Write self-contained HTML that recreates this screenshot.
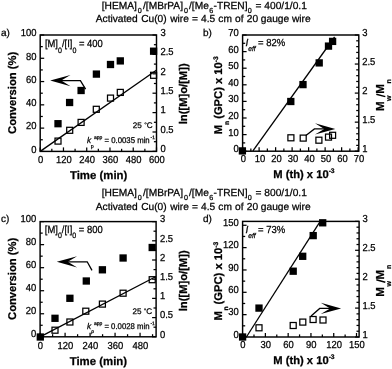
<!DOCTYPE html><html><head><meta charset="utf-8"><style>html,body{margin:0;padding:0;background:#fff}svg{display:block;filter:grayscale(1) blur(0.3px)}</style></head><body>
<svg width="392" height="369" viewBox="0 0 392 369" font-family="Liberation Sans, sans-serif" fill="#000" text-rendering="geometricPrecision"><style>text{stroke:#000;stroke-width:0.25px}</style>
<rect width="392" height="369" fill="#fff"/>
<text font-size="10.2"><tspan x="101.7" y="9.40">[HEMA]</tspan><tspan x="137.8" y="13.10" font-size="7.2">0</tspan><tspan x="143.0" y="9.40">/[MBrPA]</tspan><tspan x="184.0" y="13.10" font-size="7.2">0</tspan><tspan x="189.0" y="9.40">/[Me</tspan><tspan x="209.2" y="13.10" font-size="7.2">6</tspan><tspan x="213.6" y="9.40">-TREN]</tspan><tspan x="247.8" y="13.10" font-size="7.2">0</tspan><tspan x="255.6" y="9.40">= 400/1/0.1</tspan></text>
<text y="22.30" font-size="10.2"><tspan x="95.8">Activated</tspan><tspan x="141.2">Cu(0)</tspan><tspan x="170.2">wire</tspan><tspan x="191.9">=</tspan><tspan x="201.0">4.5</tspan><tspan x="218.3">cm</tspan><tspan x="235.1">of</tspan><tspan x="246.8">20</tspan><tspan x="260.8">gauge</tspan><tspan x="292.0">wire</tspan></text>
<text font-size="10.2"><tspan x="101.7" y="196.40">[HEMA]</tspan><tspan x="137.8" y="200.10" font-size="7.2">0</tspan><tspan x="143.0" y="196.40">/[MBrPA]</tspan><tspan x="184.0" y="200.10" font-size="7.2">0</tspan><tspan x="189.0" y="196.40">/[Me</tspan><tspan x="209.2" y="200.10" font-size="7.2">6</tspan><tspan x="213.6" y="196.40">-TREN]</tspan><tspan x="247.8" y="200.10" font-size="7.2">0</tspan><tspan x="255.6" y="196.40">= 800/1/0.1</tspan></text>
<text y="209.60" font-size="10.2"><tspan x="95.8">Activated</tspan><tspan x="141.2">Cu(0)</tspan><tspan x="170.2">wire</tspan><tspan x="191.9">=</tspan><tspan x="201.0">4.5</tspan><tspan x="218.3">cm</tspan><tspan x="235.1">of</tspan><tspan x="246.8">20</tspan><tspan x="260.8">gauge</tspan><tspan x="292.0">wire</tspan></text>
<rect x="40.2" y="35.0" width="116.30" height="116.40" fill="none" stroke="#000" stroke-width="1.45"/>
<line x1="40.20" y1="151.40" x2="40.20" y2="147.40" stroke="#000" stroke-width="1.25"/>
<text transform="translate(40.60 162.80) scale(0.935 1)" font-size="10.1" text-anchor="middle" >0</text>
<line x1="63.46" y1="151.40" x2="63.46" y2="147.40" stroke="#000" stroke-width="1.25"/>
<text transform="translate(63.86 162.80) scale(0.935 1)" font-size="10.1" text-anchor="middle" >120</text>
<line x1="86.72" y1="151.40" x2="86.72" y2="147.40" stroke="#000" stroke-width="1.25"/>
<text transform="translate(87.12 162.80) scale(0.935 1)" font-size="10.1" text-anchor="middle" >240</text>
<line x1="109.98" y1="151.40" x2="109.98" y2="147.40" stroke="#000" stroke-width="1.25"/>
<text transform="translate(110.38 162.80) scale(0.935 1)" font-size="10.1" text-anchor="middle" >360</text>
<line x1="133.24" y1="151.40" x2="133.24" y2="147.40" stroke="#000" stroke-width="1.25"/>
<text transform="translate(133.64 162.80) scale(0.935 1)" font-size="10.1" text-anchor="middle" >480</text>
<line x1="156.50" y1="151.40" x2="156.50" y2="147.40" stroke="#000" stroke-width="1.25"/>
<text transform="translate(156.90 162.80) scale(0.935 1)" font-size="10.1" text-anchor="middle" >600</text>
<line x1="51.83" y1="151.40" x2="51.83" y2="148.80" stroke="#000" stroke-width="1.25"/>
<line x1="75.09" y1="151.40" x2="75.09" y2="148.80" stroke="#000" stroke-width="1.25"/>
<line x1="98.35" y1="151.40" x2="98.35" y2="148.80" stroke="#000" stroke-width="1.25"/>
<line x1="121.61" y1="151.40" x2="121.61" y2="148.80" stroke="#000" stroke-width="1.25"/>
<line x1="144.87" y1="151.40" x2="144.87" y2="148.80" stroke="#000" stroke-width="1.25"/>
<line x1="40.20" y1="151.40" x2="44.20" y2="151.40" stroke="#000" stroke-width="1.25"/>
<text transform="translate(36.40 152.70) scale(0.935 1)" font-size="10.1" text-anchor="end" >0</text>
<line x1="40.20" y1="128.12" x2="44.20" y2="128.12" stroke="#000" stroke-width="1.25"/>
<text transform="translate(36.40 129.42) scale(0.935 1)" font-size="10.1" text-anchor="end" >20</text>
<line x1="40.20" y1="104.84" x2="44.20" y2="104.84" stroke="#000" stroke-width="1.25"/>
<text transform="translate(36.40 106.14) scale(0.935 1)" font-size="10.1" text-anchor="end" >40</text>
<line x1="40.20" y1="81.56" x2="44.20" y2="81.56" stroke="#000" stroke-width="1.25"/>
<text transform="translate(36.40 82.86) scale(0.935 1)" font-size="10.1" text-anchor="end" >60</text>
<line x1="40.20" y1="58.28" x2="44.20" y2="58.28" stroke="#000" stroke-width="1.25"/>
<text transform="translate(36.40 59.58) scale(0.935 1)" font-size="10.1" text-anchor="end" >80</text>
<line x1="40.20" y1="35.00" x2="44.20" y2="35.00" stroke="#000" stroke-width="1.25"/>
<text transform="translate(36.40 36.30) scale(0.935 1)" font-size="10.1" text-anchor="end" >100</text>
<line x1="40.20" y1="139.76" x2="42.80" y2="139.76" stroke="#000" stroke-width="1.25"/>
<line x1="40.20" y1="116.48" x2="42.80" y2="116.48" stroke="#000" stroke-width="1.25"/>
<line x1="40.20" y1="93.20" x2="42.80" y2="93.20" stroke="#000" stroke-width="1.25"/>
<line x1="40.20" y1="69.92" x2="42.80" y2="69.92" stroke="#000" stroke-width="1.25"/>
<line x1="40.20" y1="46.64" x2="42.80" y2="46.64" stroke="#000" stroke-width="1.25"/>
<line x1="156.50" y1="151.40" x2="152.50" y2="151.40" stroke="#000" stroke-width="1.25"/>
<text transform="translate(160.40 152.20) scale(0.935 1)" font-size="10.1" text-anchor="start" >0</text>
<line x1="156.50" y1="132.00" x2="152.50" y2="132.00" stroke="#000" stroke-width="1.25"/>
<text transform="translate(160.40 132.80) scale(0.935 1)" font-size="10.1" text-anchor="start" >0.5</text>
<line x1="156.50" y1="112.60" x2="152.50" y2="112.60" stroke="#000" stroke-width="1.25"/>
<text transform="translate(160.40 113.40) scale(0.935 1)" font-size="10.1" text-anchor="start" >1</text>
<line x1="156.50" y1="93.20" x2="152.50" y2="93.20" stroke="#000" stroke-width="1.25"/>
<text transform="translate(160.40 94.00) scale(0.935 1)" font-size="10.1" text-anchor="start" >1.5</text>
<line x1="156.50" y1="73.80" x2="152.50" y2="73.80" stroke="#000" stroke-width="1.25"/>
<text transform="translate(160.40 74.60) scale(0.935 1)" font-size="10.1" text-anchor="start" >2</text>
<line x1="156.50" y1="54.40" x2="152.50" y2="54.40" stroke="#000" stroke-width="1.25"/>
<text transform="translate(160.40 55.20) scale(0.935 1)" font-size="10.1" text-anchor="start" >2.5</text>
<line x1="156.50" y1="35.00" x2="152.50" y2="35.00" stroke="#000" stroke-width="1.25"/>
<text transform="translate(160.40 35.80) scale(0.935 1)" font-size="10.1" text-anchor="start" >3</text>
<line x1="156.50" y1="141.70" x2="153.90" y2="141.70" stroke="#000" stroke-width="1.25"/>
<line x1="156.50" y1="122.30" x2="153.90" y2="122.30" stroke="#000" stroke-width="1.25"/>
<line x1="156.50" y1="102.90" x2="153.90" y2="102.90" stroke="#000" stroke-width="1.25"/>
<line x1="156.50" y1="83.50" x2="153.90" y2="83.50" stroke="#000" stroke-width="1.25"/>
<line x1="156.50" y1="64.10" x2="153.90" y2="64.10" stroke="#000" stroke-width="1.25"/>
<line x1="156.50" y1="44.70" x2="153.90" y2="44.70" stroke="#000" stroke-width="1.25"/>
<text x="98.65" y="178.80" font-size="11.4" text-anchor="middle" font-weight="bold" >Time (min)</text>
<text x="15.60" y="92.90" font-size="11.2" text-anchor="middle" font-weight="bold" transform="rotate(-90 15.60 92.90)" >Conversion (%)</text>
<text x="187.20" y="93.80" font-size="11.2" text-anchor="middle" font-weight="bold" transform="rotate(-90 187.20 93.80)" >ln([M]o/[M])</text>
<text x="0.90" y="36.30" font-size="10" text-anchor="start" >a)</text>
<rect x="55.00" y="138.10" width="6.0" height="6.0" fill="none" stroke="#000" stroke-width="1.25"/>
<rect x="66.70" y="127.30" width="6.0" height="6.0" fill="none" stroke="#000" stroke-width="1.25"/>
<rect x="78.10" y="119.40" width="6.0" height="6.0" fill="none" stroke="#000" stroke-width="1.25"/>
<rect x="93.30" y="106.30" width="6.0" height="6.0" fill="none" stroke="#000" stroke-width="1.25"/>
<rect x="107.50" y="95.10" width="6.0" height="6.0" fill="none" stroke="#000" stroke-width="1.25"/>
<rect x="117.30" y="89.40" width="6.0" height="6.0" fill="none" stroke="#000" stroke-width="1.25"/>
<rect x="150.60" y="72.30" width="6.0" height="6.0" fill="none" stroke="#000" stroke-width="1.25"/>
<line x1="40.20" y1="151.40" x2="156.30" y2="70.20" stroke="#000" stroke-width="1.3"/>
<rect x="54.35" y="120.05" width="7.3" height="7.3" fill="#000"/>
<rect x="65.95" y="98.85" width="7.3" height="7.3" fill="#000"/>
<rect x="77.45" y="86.85" width="7.3" height="7.3" fill="#000"/>
<rect x="92.75" y="70.45" width="7.3" height="7.3" fill="#000"/>
<rect x="106.85" y="60.85" width="7.3" height="7.3" fill="#000"/>
<rect x="116.65" y="57.25" width="7.3" height="7.3" fill="#000"/>
<rect x="149.95" y="47.55" width="7.3" height="7.3" fill="#000"/>
<path d="M50.20,80.60 L70.50,75.00 L61.20,80.60 L70.50,86.20 Z" fill="#000"/>
<path d="M59.20,80.60 L80.40,80.60 L85.60,89.20" fill="none" stroke="#000" stroke-width="1.3"/>
<text x="44.90" y="46.90" font-size="10.4" text-anchor="start" textLength="57.9" lengthAdjust="spacingAndGlyphs">[M]<tspan font-size="7.8" dy="5.6">0</tspan><tspan dy="-5.6">/[I]</tspan><tspan font-size="7.8" dy="5.6">0</tspan><tspan dy="-5.6"> = 400</tspan></text>
<text x="152.60" y="127.80" font-size="8.1" text-anchor="end" >25 <tspan font-size="6.5" dy="-0.6">°</tspan><tspan dy="0.6">C</tspan></text>
<text x="87.00" y="143.10" font-size="8.3" text-anchor="start" font-style="italic">k</text>
<text x="90.80" y="148.30" font-size="5.3" text-anchor="start" >p</text>
<text x="94.00" y="139.10" font-size="5.0" text-anchor="start" >app</text>
<text x="104.50" y="143.10" font-size="8.3" text-anchor="start" textLength="45.2" lengthAdjust="spacingAndGlyphs">= 0.0035 min</text>
<text x="150.50" y="138.90" font-size="4.9" text-anchor="start" >-1</text>
<rect x="242.6" y="35.0" width="116.20" height="116.20" fill="none" stroke="#000" stroke-width="1.45"/>
<line x1="242.60" y1="151.20" x2="242.60" y2="147.20" stroke="#000" stroke-width="1.25"/>
<text transform="translate(243.40 162.20) scale(0.935 1)" font-size="10.1" text-anchor="middle" >0</text>
<line x1="259.11" y1="151.20" x2="259.11" y2="147.20" stroke="#000" stroke-width="1.25"/>
<text transform="translate(259.91 162.20) scale(0.935 1)" font-size="10.1" text-anchor="middle" >10</text>
<line x1="275.61" y1="151.20" x2="275.61" y2="147.20" stroke="#000" stroke-width="1.25"/>
<text transform="translate(276.41 162.20) scale(0.935 1)" font-size="10.1" text-anchor="middle" >20</text>
<line x1="292.12" y1="151.20" x2="292.12" y2="147.20" stroke="#000" stroke-width="1.25"/>
<text transform="translate(292.92 162.20) scale(0.935 1)" font-size="10.1" text-anchor="middle" >30</text>
<line x1="308.62" y1="151.20" x2="308.62" y2="147.20" stroke="#000" stroke-width="1.25"/>
<text transform="translate(309.42 162.20) scale(0.935 1)" font-size="10.1" text-anchor="middle" >40</text>
<line x1="325.13" y1="151.20" x2="325.13" y2="147.20" stroke="#000" stroke-width="1.25"/>
<text transform="translate(325.93 162.20) scale(0.935 1)" font-size="10.1" text-anchor="middle" >50</text>
<line x1="341.63" y1="151.20" x2="341.63" y2="147.20" stroke="#000" stroke-width="1.25"/>
<text transform="translate(342.43 162.20) scale(0.935 1)" font-size="10.1" text-anchor="middle" >60</text>
<line x1="358.14" y1="151.20" x2="358.14" y2="147.20" stroke="#000" stroke-width="1.25"/>
<text transform="translate(358.94 162.20) scale(0.935 1)" font-size="10.1" text-anchor="middle" >70</text>
<line x1="250.85" y1="151.20" x2="250.85" y2="148.60" stroke="#000" stroke-width="1.25"/>
<line x1="267.36" y1="151.20" x2="267.36" y2="148.60" stroke="#000" stroke-width="1.25"/>
<line x1="283.86" y1="151.20" x2="283.86" y2="148.60" stroke="#000" stroke-width="1.25"/>
<line x1="300.37" y1="151.20" x2="300.37" y2="148.60" stroke="#000" stroke-width="1.25"/>
<line x1="316.88" y1="151.20" x2="316.88" y2="148.60" stroke="#000" stroke-width="1.25"/>
<line x1="333.38" y1="151.20" x2="333.38" y2="148.60" stroke="#000" stroke-width="1.25"/>
<line x1="349.89" y1="151.20" x2="349.89" y2="148.60" stroke="#000" stroke-width="1.25"/>
<line x1="242.60" y1="151.20" x2="246.60" y2="151.20" stroke="#000" stroke-width="1.25"/>
<text transform="translate(238.80 152.20) scale(0.935 1)" font-size="10.1" text-anchor="end" >0</text>
<line x1="242.60" y1="134.60" x2="246.60" y2="134.60" stroke="#000" stroke-width="1.25"/>
<text transform="translate(238.80 135.60) scale(0.935 1)" font-size="10.1" text-anchor="end" >10</text>
<line x1="242.60" y1="118.00" x2="246.60" y2="118.00" stroke="#000" stroke-width="1.25"/>
<text transform="translate(238.80 119.00) scale(0.935 1)" font-size="10.1" text-anchor="end" >20</text>
<line x1="242.60" y1="101.40" x2="246.60" y2="101.40" stroke="#000" stroke-width="1.25"/>
<text transform="translate(238.80 102.40) scale(0.935 1)" font-size="10.1" text-anchor="end" >30</text>
<line x1="242.60" y1="84.80" x2="246.60" y2="84.80" stroke="#000" stroke-width="1.25"/>
<text transform="translate(238.80 85.80) scale(0.935 1)" font-size="10.1" text-anchor="end" >40</text>
<line x1="242.60" y1="68.20" x2="246.60" y2="68.20" stroke="#000" stroke-width="1.25"/>
<text transform="translate(238.80 69.20) scale(0.935 1)" font-size="10.1" text-anchor="end" >50</text>
<line x1="242.60" y1="51.60" x2="246.60" y2="51.60" stroke="#000" stroke-width="1.25"/>
<text transform="translate(238.80 52.60) scale(0.935 1)" font-size="10.1" text-anchor="end" >60</text>
<line x1="242.60" y1="35.00" x2="246.60" y2="35.00" stroke="#000" stroke-width="1.25"/>
<text transform="translate(238.80 36.00) scale(0.935 1)" font-size="10.1" text-anchor="end" >70</text>
<line x1="242.60" y1="142.90" x2="245.20" y2="142.90" stroke="#000" stroke-width="1.25"/>
<line x1="242.60" y1="126.30" x2="245.20" y2="126.30" stroke="#000" stroke-width="1.25"/>
<line x1="242.60" y1="109.70" x2="245.20" y2="109.70" stroke="#000" stroke-width="1.25"/>
<line x1="242.60" y1="93.10" x2="245.20" y2="93.10" stroke="#000" stroke-width="1.25"/>
<line x1="242.60" y1="76.50" x2="245.20" y2="76.50" stroke="#000" stroke-width="1.25"/>
<line x1="242.60" y1="59.90" x2="245.20" y2="59.90" stroke="#000" stroke-width="1.25"/>
<line x1="242.60" y1="43.30" x2="245.20" y2="43.30" stroke="#000" stroke-width="1.25"/>
<line x1="358.80" y1="151.20" x2="354.80" y2="151.20" stroke="#000" stroke-width="1.25"/>
<text transform="translate(362.20 152.00) scale(0.935 1)" font-size="10.1" text-anchor="start" >1</text>
<line x1="358.80" y1="122.15" x2="354.80" y2="122.15" stroke="#000" stroke-width="1.25"/>
<text transform="translate(362.20 122.95) scale(0.935 1)" font-size="10.1" text-anchor="start" >1.5</text>
<line x1="358.80" y1="93.10" x2="354.80" y2="93.10" stroke="#000" stroke-width="1.25"/>
<text transform="translate(362.20 93.90) scale(0.935 1)" font-size="10.1" text-anchor="start" >2</text>
<line x1="358.80" y1="64.05" x2="354.80" y2="64.05" stroke="#000" stroke-width="1.25"/>
<text transform="translate(362.20 64.85) scale(0.935 1)" font-size="10.1" text-anchor="start" >2.5</text>
<line x1="358.80" y1="35.00" x2="354.80" y2="35.00" stroke="#000" stroke-width="1.25"/>
<text transform="translate(362.20 35.80) scale(0.935 1)" font-size="10.1" text-anchor="start" >3</text>
<line x1="358.80" y1="145.39" x2="356.20" y2="145.39" stroke="#000" stroke-width="1.25"/>
<line x1="358.80" y1="139.58" x2="356.20" y2="139.58" stroke="#000" stroke-width="1.25"/>
<line x1="358.80" y1="133.77" x2="356.20" y2="133.77" stroke="#000" stroke-width="1.25"/>
<line x1="358.80" y1="127.96" x2="356.20" y2="127.96" stroke="#000" stroke-width="1.25"/>
<line x1="358.80" y1="116.34" x2="356.20" y2="116.34" stroke="#000" stroke-width="1.25"/>
<line x1="358.80" y1="110.53" x2="356.20" y2="110.53" stroke="#000" stroke-width="1.25"/>
<line x1="358.80" y1="104.72" x2="356.20" y2="104.72" stroke="#000" stroke-width="1.25"/>
<line x1="358.80" y1="98.91" x2="356.20" y2="98.91" stroke="#000" stroke-width="1.25"/>
<line x1="358.80" y1="87.29" x2="356.20" y2="87.29" stroke="#000" stroke-width="1.25"/>
<line x1="358.80" y1="81.48" x2="356.20" y2="81.48" stroke="#000" stroke-width="1.25"/>
<line x1="358.80" y1="75.67" x2="356.20" y2="75.67" stroke="#000" stroke-width="1.25"/>
<line x1="358.80" y1="69.86" x2="356.20" y2="69.86" stroke="#000" stroke-width="1.25"/>
<line x1="358.80" y1="58.24" x2="356.20" y2="58.24" stroke="#000" stroke-width="1.25"/>
<line x1="358.80" y1="52.43" x2="356.20" y2="52.43" stroke="#000" stroke-width="1.25"/>
<line x1="358.80" y1="46.62" x2="356.20" y2="46.62" stroke="#000" stroke-width="1.25"/>
<line x1="358.80" y1="40.81" x2="356.20" y2="40.81" stroke="#000" stroke-width="1.25"/>
<text x="273.30" y="178.30" font-size="11.2" text-anchor="start" font-weight="bold" >M (th) x 10<tspan font-size="6.7" dy="-5.4">-3</tspan></text>
<text x="222.30" y="134.30" font-size="11.2" text-anchor="start" font-weight="bold" transform="rotate(-90 222.30 134.30)" >M</text>
<text x="229.00" y="124.97" font-size="6.7" text-anchor="start" font-weight="bold" transform="rotate(-90 229.00 124.97)" >n</text>
<text x="222.30" y="118.80" font-size="11.2" text-anchor="start" font-weight="bold" transform="rotate(-90 222.30 118.80)" >(GPC) x 10<tspan font-size="6.7" dy="-4.6">-3</tspan></text>
<text x="384.50" y="111.10" font-size="11.6" text-anchor="start" font-weight="bold" transform="rotate(-90 384.50 111.10)" >M</text>
<text x="390.60" y="101.00" font-size="7.0" text-anchor="start" font-weight="bold" transform="rotate(-90 390.60 101.00)" >w</text>
<line x1="385.30" y1="96.60" x2="376.30" y2="94.20" stroke="#000" stroke-width="1.5"/>
<text x="384.50" y="93.80" font-size="11.6" text-anchor="start" font-weight="bold" transform="rotate(-90 384.50 93.80)" >M</text>
<text x="390.60" y="83.50" font-size="7.0" text-anchor="start" font-weight="bold" transform="rotate(-90 390.60 83.50)" >n</text>
<text x="203.00" y="36.30" font-size="10" text-anchor="start" >b)</text>
<line x1="252.90" y1="150.90" x2="334.60" y2="37.00" stroke="#000" stroke-width="1.3"/>
<rect x="287.90" y="134.80" width="6.0" height="6.0" fill="none" stroke="#000" stroke-width="1.25"/>
<rect x="300.20" y="135.10" width="6.0" height="6.0" fill="none" stroke="#000" stroke-width="1.25"/>
<rect x="315.90" y="137.20" width="6.0" height="6.0" fill="none" stroke="#000" stroke-width="1.25"/>
<rect x="325.50" y="134.10" width="6.0" height="6.0" fill="none" stroke="#000" stroke-width="1.25"/>
<rect x="329.60" y="132.30" width="6.0" height="6.0" fill="none" stroke="#000" stroke-width="1.25"/>
<rect x="238.75" y="147.25" width="7.3" height="7.3" fill="#000"/>
<rect x="287.15" y="97.85" width="7.3" height="7.3" fill="#000"/>
<rect x="299.35" y="80.95" width="7.3" height="7.3" fill="#000"/>
<rect x="315.55" y="59.25" width="7.3" height="7.3" fill="#000"/>
<rect x="324.85" y="42.45" width="7.3" height="7.3" fill="#000"/>
<rect x="328.95" y="37.75" width="7.3" height="7.3" fill="#000"/>
<path d="M335.30,128.90 L315.00,123.30 L324.30,128.90 L315.00,134.50 Z" fill="#000"/>
<path d="M326.30,128.90 L314.40,128.90 L305.90,135.40" fill="none" stroke="#000" stroke-width="1.3"/>
<text x="245.50" y="45.90" font-size="10.2" text-anchor="start" font-style="italic">I</text>
<text x="248.20" y="50.90" font-size="7.0" text-anchor="start" font-style="italic" textLength="7.4" lengthAdjust="spacingAndGlyphs">eff</text>
<text x="258.00" y="45.90" font-size="10.2" text-anchor="start" textLength="27.3" lengthAdjust="spacingAndGlyphs">= 82%</text>
<rect x="40.1" y="221.6" width="116.00" height="115.20" fill="none" stroke="#000" stroke-width="1.45"/>
<line x1="40.10" y1="336.80" x2="40.10" y2="332.80" stroke="#000" stroke-width="1.25"/>
<text transform="translate(40.50 348.80) scale(0.935 1)" font-size="10.1" text-anchor="middle" >0</text>
<line x1="65.09" y1="336.80" x2="65.09" y2="332.80" stroke="#000" stroke-width="1.25"/>
<text transform="translate(65.49 348.80) scale(0.935 1)" font-size="10.1" text-anchor="middle" >120</text>
<line x1="90.08" y1="336.80" x2="90.08" y2="332.80" stroke="#000" stroke-width="1.25"/>
<text transform="translate(90.48 348.80) scale(0.935 1)" font-size="10.1" text-anchor="middle" >240</text>
<line x1="115.07" y1="336.80" x2="115.07" y2="332.80" stroke="#000" stroke-width="1.25"/>
<text transform="translate(115.47 348.80) scale(0.935 1)" font-size="10.1" text-anchor="middle" >360</text>
<line x1="140.06" y1="336.80" x2="140.06" y2="332.80" stroke="#000" stroke-width="1.25"/>
<text transform="translate(140.46 348.80) scale(0.935 1)" font-size="10.1" text-anchor="middle" >480</text>
<line x1="52.60" y1="336.80" x2="52.60" y2="334.20" stroke="#000" stroke-width="1.25"/>
<line x1="77.59" y1="336.80" x2="77.59" y2="334.20" stroke="#000" stroke-width="1.25"/>
<line x1="102.58" y1="336.80" x2="102.58" y2="334.20" stroke="#000" stroke-width="1.25"/>
<line x1="127.57" y1="336.80" x2="127.57" y2="334.20" stroke="#000" stroke-width="1.25"/>
<line x1="152.56" y1="336.80" x2="152.56" y2="334.20" stroke="#000" stroke-width="1.25"/>
<line x1="40.10" y1="336.80" x2="44.10" y2="336.80" stroke="#000" stroke-width="1.25"/>
<text transform="translate(36.30 337.30) scale(0.935 1)" font-size="10.1" text-anchor="end" >0</text>
<line x1="40.10" y1="313.76" x2="44.10" y2="313.76" stroke="#000" stroke-width="1.25"/>
<text transform="translate(36.30 314.26) scale(0.935 1)" font-size="10.1" text-anchor="end" >20</text>
<line x1="40.10" y1="290.72" x2="44.10" y2="290.72" stroke="#000" stroke-width="1.25"/>
<text transform="translate(36.30 291.22) scale(0.935 1)" font-size="10.1" text-anchor="end" >40</text>
<line x1="40.10" y1="267.68" x2="44.10" y2="267.68" stroke="#000" stroke-width="1.25"/>
<text transform="translate(36.30 268.18) scale(0.935 1)" font-size="10.1" text-anchor="end" >60</text>
<line x1="40.10" y1="244.64" x2="44.10" y2="244.64" stroke="#000" stroke-width="1.25"/>
<text transform="translate(36.30 245.14) scale(0.935 1)" font-size="10.1" text-anchor="end" >80</text>
<line x1="40.10" y1="221.60" x2="44.10" y2="221.60" stroke="#000" stroke-width="1.25"/>
<text transform="translate(36.30 222.10) scale(0.935 1)" font-size="10.1" text-anchor="end" >100</text>
<line x1="40.10" y1="325.28" x2="42.70" y2="325.28" stroke="#000" stroke-width="1.25"/>
<line x1="40.10" y1="302.24" x2="42.70" y2="302.24" stroke="#000" stroke-width="1.25"/>
<line x1="40.10" y1="279.20" x2="42.70" y2="279.20" stroke="#000" stroke-width="1.25"/>
<line x1="40.10" y1="256.16" x2="42.70" y2="256.16" stroke="#000" stroke-width="1.25"/>
<line x1="40.10" y1="233.12" x2="42.70" y2="233.12" stroke="#000" stroke-width="1.25"/>
<line x1="156.10" y1="336.80" x2="152.10" y2="336.80" stroke="#000" stroke-width="1.25"/>
<text transform="translate(160.00 337.60) scale(0.935 1)" font-size="10.1" text-anchor="start" >0</text>
<line x1="156.10" y1="317.60" x2="152.10" y2="317.60" stroke="#000" stroke-width="1.25"/>
<text transform="translate(160.00 318.40) scale(0.935 1)" font-size="10.1" text-anchor="start" >0.5</text>
<line x1="156.10" y1="298.40" x2="152.10" y2="298.40" stroke="#000" stroke-width="1.25"/>
<text transform="translate(160.00 299.20) scale(0.935 1)" font-size="10.1" text-anchor="start" >1</text>
<line x1="156.10" y1="279.20" x2="152.10" y2="279.20" stroke="#000" stroke-width="1.25"/>
<text transform="translate(160.00 280.00) scale(0.935 1)" font-size="10.1" text-anchor="start" >1.5</text>
<line x1="156.10" y1="260.00" x2="152.10" y2="260.00" stroke="#000" stroke-width="1.25"/>
<text transform="translate(160.00 260.80) scale(0.935 1)" font-size="10.1" text-anchor="start" >2</text>
<line x1="156.10" y1="240.80" x2="152.10" y2="240.80" stroke="#000" stroke-width="1.25"/>
<text transform="translate(160.00 241.60) scale(0.935 1)" font-size="10.1" text-anchor="start" >2.5</text>
<line x1="156.10" y1="221.60" x2="152.10" y2="221.60" stroke="#000" stroke-width="1.25"/>
<text transform="translate(160.00 222.40) scale(0.935 1)" font-size="10.1" text-anchor="start" >3</text>
<line x1="156.10" y1="327.20" x2="153.50" y2="327.20" stroke="#000" stroke-width="1.25"/>
<line x1="156.10" y1="308.00" x2="153.50" y2="308.00" stroke="#000" stroke-width="1.25"/>
<line x1="156.10" y1="288.80" x2="153.50" y2="288.80" stroke="#000" stroke-width="1.25"/>
<line x1="156.10" y1="269.60" x2="153.50" y2="269.60" stroke="#000" stroke-width="1.25"/>
<line x1="156.10" y1="250.40" x2="153.50" y2="250.40" stroke="#000" stroke-width="1.25"/>
<line x1="156.10" y1="231.20" x2="153.50" y2="231.20" stroke="#000" stroke-width="1.25"/>
<text x="98.40" y="364.80" font-size="11.4" text-anchor="middle" font-weight="bold" >Time (min)</text>
<text x="15.60" y="278.90" font-size="11.2" text-anchor="middle" font-weight="bold" transform="rotate(-90 15.60 278.90)" >Conversion (%)</text>
<text x="187.20" y="280.80" font-size="11.2" text-anchor="middle" font-weight="bold" transform="rotate(-90 187.20 280.80)" >ln([M]o/[M])</text>
<text x="0.90" y="221.90" font-size="10" text-anchor="start" >c)</text>
<rect x="52.00" y="327.20" width="6.0" height="6.0" fill="none" stroke="#000" stroke-width="1.25"/>
<rect x="66.90" y="319.00" width="6.0" height="6.0" fill="none" stroke="#000" stroke-width="1.25"/>
<rect x="82.80" y="308.20" width="6.0" height="6.0" fill="none" stroke="#000" stroke-width="1.25"/>
<rect x="99.40" y="301.10" width="6.0" height="6.0" fill="none" stroke="#000" stroke-width="1.25"/>
<rect x="120.10" y="290.20" width="6.0" height="6.0" fill="none" stroke="#000" stroke-width="1.25"/>
<rect x="149.20" y="276.70" width="6.0" height="6.0" fill="none" stroke="#000" stroke-width="1.25"/>
<line x1="40.10" y1="336.80" x2="156.10" y2="276.50" stroke="#000" stroke-width="1.3"/>
<rect x="36.65" y="333.35" width="7.3" height="7.3" fill="#000"/>
<rect x="51.35" y="314.65" width="7.3" height="7.3" fill="#000"/>
<rect x="66.25" y="294.65" width="7.3" height="7.3" fill="#000"/>
<rect x="82.65" y="277.35" width="7.3" height="7.3" fill="#000"/>
<rect x="98.75" y="266.15" width="7.3" height="7.3" fill="#000"/>
<rect x="119.45" y="254.35" width="7.3" height="7.3" fill="#000"/>
<rect x="148.55" y="243.85" width="7.3" height="7.3" fill="#000"/>
<path d="M56.80,261.80 L77.10,256.20 L67.80,261.80 L77.10,267.40 Z" fill="#000"/>
<path d="M65.80,261.80 L87.20,261.80 L92.00,270.40" fill="none" stroke="#000" stroke-width="1.3"/>
<text x="44.80" y="232.60" font-size="10.4" text-anchor="start" textLength="57.9" lengthAdjust="spacingAndGlyphs">[M]<tspan font-size="7.8" dy="5.6">0</tspan><tspan dy="-5.6">/[I]</tspan><tspan font-size="7.8" dy="5.6">0</tspan><tspan dy="-5.6"> = 800</tspan></text>
<text x="152.20" y="314.00" font-size="8.1" text-anchor="end" >25 <tspan font-size="6.5" dy="-0.6">°</tspan><tspan dy="0.6">C</tspan></text>
<text x="86.90" y="329.30" font-size="8.3" text-anchor="start" font-style="italic">k</text>
<text x="91.20" y="333.20" font-size="4.8" text-anchor="start" font-style="italic">p</text>
<text x="93.90" y="324.70" font-size="5.0" text-anchor="start" >app</text>
<text x="104.40" y="329.30" font-size="8.3" text-anchor="start" textLength="45.2" lengthAdjust="spacingAndGlyphs">= 0.0028 min</text>
<text x="150.40" y="325.10" font-size="4.9" text-anchor="start" >-1</text>
<rect x="242.6" y="221.4" width="116.50" height="115.60" fill="none" stroke="#000" stroke-width="1.45"/>
<line x1="242.60" y1="337.00" x2="242.60" y2="333.00" stroke="#000" stroke-width="1.25"/>
<text transform="translate(243.00 348.30) scale(0.935 1)" font-size="10.1" text-anchor="middle" >0</text>
<line x1="265.38" y1="337.00" x2="265.38" y2="333.00" stroke="#000" stroke-width="1.25"/>
<text transform="translate(265.78 348.30) scale(0.935 1)" font-size="10.1" text-anchor="middle" >30</text>
<line x1="288.17" y1="337.00" x2="288.17" y2="333.00" stroke="#000" stroke-width="1.25"/>
<text transform="translate(288.57 348.30) scale(0.935 1)" font-size="10.1" text-anchor="middle" >60</text>
<line x1="310.95" y1="337.00" x2="310.95" y2="333.00" stroke="#000" stroke-width="1.25"/>
<text transform="translate(311.35 348.30) scale(0.935 1)" font-size="10.1" text-anchor="middle" >90</text>
<line x1="333.73" y1="337.00" x2="333.73" y2="333.00" stroke="#000" stroke-width="1.25"/>
<text transform="translate(334.13 348.30) scale(0.935 1)" font-size="10.1" text-anchor="middle" >120</text>
<line x1="356.52" y1="337.00" x2="356.52" y2="333.00" stroke="#000" stroke-width="1.25"/>
<text transform="translate(356.92 348.30) scale(0.935 1)" font-size="10.1" text-anchor="middle" >150</text>
<line x1="253.99" y1="337.00" x2="253.99" y2="334.40" stroke="#000" stroke-width="1.25"/>
<line x1="276.78" y1="337.00" x2="276.78" y2="334.40" stroke="#000" stroke-width="1.25"/>
<line x1="299.56" y1="337.00" x2="299.56" y2="334.40" stroke="#000" stroke-width="1.25"/>
<line x1="322.34" y1="337.00" x2="322.34" y2="334.40" stroke="#000" stroke-width="1.25"/>
<line x1="345.13" y1="337.00" x2="345.13" y2="334.40" stroke="#000" stroke-width="1.25"/>
<line x1="242.60" y1="337.00" x2="246.60" y2="337.00" stroke="#000" stroke-width="1.25"/>
<text transform="translate(238.80 337.80) scale(0.935 1)" font-size="10.1" text-anchor="end" >0</text>
<line x1="242.60" y1="314.65" x2="246.60" y2="314.65" stroke="#000" stroke-width="1.25"/>
<text transform="translate(238.80 315.45) scale(0.935 1)" font-size="10.1" text-anchor="end" >30</text>
<line x1="242.60" y1="292.31" x2="246.60" y2="292.31" stroke="#000" stroke-width="1.25"/>
<text transform="translate(238.80 293.11) scale(0.935 1)" font-size="10.1" text-anchor="end" >60</text>
<line x1="242.60" y1="269.96" x2="246.60" y2="269.96" stroke="#000" stroke-width="1.25"/>
<text transform="translate(238.80 270.76) scale(0.935 1)" font-size="10.1" text-anchor="end" >90</text>
<line x1="242.60" y1="247.62" x2="246.60" y2="247.62" stroke="#000" stroke-width="1.25"/>
<text transform="translate(238.80 248.42) scale(0.935 1)" font-size="10.1" text-anchor="end" >120</text>
<line x1="242.60" y1="225.27" x2="246.60" y2="225.27" stroke="#000" stroke-width="1.25"/>
<text transform="translate(238.80 226.07) scale(0.935 1)" font-size="10.1" text-anchor="end" >150</text>
<line x1="242.60" y1="325.83" x2="245.20" y2="325.83" stroke="#000" stroke-width="1.25"/>
<line x1="242.60" y1="303.48" x2="245.20" y2="303.48" stroke="#000" stroke-width="1.25"/>
<line x1="242.60" y1="281.14" x2="245.20" y2="281.14" stroke="#000" stroke-width="1.25"/>
<line x1="242.60" y1="258.79" x2="245.20" y2="258.79" stroke="#000" stroke-width="1.25"/>
<line x1="242.60" y1="236.45" x2="245.20" y2="236.45" stroke="#000" stroke-width="1.25"/>
<line x1="359.10" y1="337.00" x2="355.10" y2="337.00" stroke="#000" stroke-width="1.25"/>
<text transform="translate(362.50 337.80) scale(0.935 1)" font-size="10.1" text-anchor="start" >1</text>
<line x1="359.10" y1="308.10" x2="355.10" y2="308.10" stroke="#000" stroke-width="1.25"/>
<text transform="translate(362.50 308.90) scale(0.935 1)" font-size="10.1" text-anchor="start" >1.5</text>
<line x1="359.10" y1="279.20" x2="355.10" y2="279.20" stroke="#000" stroke-width="1.25"/>
<text transform="translate(362.50 280.00) scale(0.935 1)" font-size="10.1" text-anchor="start" >2</text>
<line x1="359.10" y1="250.30" x2="355.10" y2="250.30" stroke="#000" stroke-width="1.25"/>
<text transform="translate(362.50 251.10) scale(0.935 1)" font-size="10.1" text-anchor="start" >2.5</text>
<line x1="359.10" y1="221.40" x2="355.10" y2="221.40" stroke="#000" stroke-width="1.25"/>
<text transform="translate(362.50 222.20) scale(0.935 1)" font-size="10.1" text-anchor="start" >3</text>
<line x1="359.10" y1="331.22" x2="356.50" y2="331.22" stroke="#000" stroke-width="1.25"/>
<line x1="359.10" y1="325.44" x2="356.50" y2="325.44" stroke="#000" stroke-width="1.25"/>
<line x1="359.10" y1="319.66" x2="356.50" y2="319.66" stroke="#000" stroke-width="1.25"/>
<line x1="359.10" y1="313.88" x2="356.50" y2="313.88" stroke="#000" stroke-width="1.25"/>
<line x1="359.10" y1="302.32" x2="356.50" y2="302.32" stroke="#000" stroke-width="1.25"/>
<line x1="359.10" y1="296.54" x2="356.50" y2="296.54" stroke="#000" stroke-width="1.25"/>
<line x1="359.10" y1="290.76" x2="356.50" y2="290.76" stroke="#000" stroke-width="1.25"/>
<line x1="359.10" y1="284.98" x2="356.50" y2="284.98" stroke="#000" stroke-width="1.25"/>
<line x1="359.10" y1="273.42" x2="356.50" y2="273.42" stroke="#000" stroke-width="1.25"/>
<line x1="359.10" y1="267.64" x2="356.50" y2="267.64" stroke="#000" stroke-width="1.25"/>
<line x1="359.10" y1="261.86" x2="356.50" y2="261.86" stroke="#000" stroke-width="1.25"/>
<line x1="359.10" y1="256.08" x2="356.50" y2="256.08" stroke="#000" stroke-width="1.25"/>
<line x1="359.10" y1="244.52" x2="356.50" y2="244.52" stroke="#000" stroke-width="1.25"/>
<line x1="359.10" y1="238.74" x2="356.50" y2="238.74" stroke="#000" stroke-width="1.25"/>
<line x1="359.10" y1="232.96" x2="356.50" y2="232.96" stroke="#000" stroke-width="1.25"/>
<line x1="359.10" y1="227.18" x2="356.50" y2="227.18" stroke="#000" stroke-width="1.25"/>
<text x="273.30" y="364.10" font-size="11.2" text-anchor="start" font-weight="bold" >M (th) x 10<tspan font-size="6.7" dy="-5.4">-3</tspan></text>
<text x="222.30" y="320.60" font-size="11.2" text-anchor="start" font-weight="bold" transform="rotate(-90 222.30 320.60)" >M</text>
<text x="228.00" y="310.57" font-size="6.7" text-anchor="start" font-weight="bold" transform="rotate(-90 228.00 310.57)" >n</text>
<text x="222.30" y="304.40" font-size="11.2" text-anchor="start" font-weight="bold" transform="rotate(-90 222.30 304.40)" >(GPC) x 10<tspan font-size="6.7" dy="-4.6">-3</tspan></text>
<text x="384.50" y="296.70" font-size="11.6" text-anchor="start" font-weight="bold" transform="rotate(-90 384.50 296.70)" >M</text>
<text x="390.60" y="286.60" font-size="7.0" text-anchor="start" font-weight="bold" transform="rotate(-90 390.60 286.60)" >w</text>
<line x1="385.30" y1="282.20" x2="376.30" y2="279.80" stroke="#000" stroke-width="1.5"/>
<text x="384.50" y="279.40" font-size="11.6" text-anchor="start" font-weight="bold" transform="rotate(-90 384.50 279.40)" >M</text>
<text x="390.60" y="269.10" font-size="7.0" text-anchor="start" font-weight="bold" transform="rotate(-90 390.60 269.10)" >n</text>
<text x="203.00" y="221.90" font-size="10" text-anchor="start" >d)</text>
<line x1="246.40" y1="337.00" x2="320.20" y2="221.40" stroke="#000" stroke-width="1.3"/>
<rect x="256.00" y="324.80" width="6.0" height="6.0" fill="none" stroke="#000" stroke-width="1.25"/>
<rect x="290.20" y="322.50" width="6.0" height="6.0" fill="none" stroke="#000" stroke-width="1.25"/>
<rect x="299.80" y="319.10" width="6.0" height="6.0" fill="none" stroke="#000" stroke-width="1.25"/>
<rect x="310.10" y="316.50" width="6.0" height="6.0" fill="none" stroke="#000" stroke-width="1.25"/>
<rect x="320.00" y="317.00" width="6.0" height="6.0" fill="none" stroke="#000" stroke-width="1.25"/>
<rect x="238.95" y="333.35" width="7.3" height="7.3" fill="#000"/>
<rect x="255.35" y="304.45" width="7.3" height="7.3" fill="#000"/>
<rect x="289.55" y="267.55" width="7.3" height="7.3" fill="#000"/>
<rect x="299.05" y="252.65" width="7.3" height="7.3" fill="#000"/>
<rect x="309.55" y="231.95" width="7.3" height="7.3" fill="#000"/>
<rect x="319.05" y="219.15" width="7.3" height="7.3" fill="#000"/>
<path d="M341.10,308.40 L320.80,302.80 L330.10,308.40 L320.80,314.00 Z" fill="#000"/>
<path d="M332.10,308.40 L319.70,308.40 L311.10,316.10" fill="none" stroke="#000" stroke-width="1.3"/>
<text x="245.50" y="232.80" font-size="10.2" text-anchor="start" font-style="italic">I</text>
<text x="248.20" y="237.80" font-size="7.0" text-anchor="start" font-style="italic" textLength="7.4" lengthAdjust="spacingAndGlyphs">eff</text>
<text x="258.00" y="232.80" font-size="10.2" text-anchor="start" textLength="27.3" lengthAdjust="spacingAndGlyphs">= 73%</text>
</svg></body></html>
